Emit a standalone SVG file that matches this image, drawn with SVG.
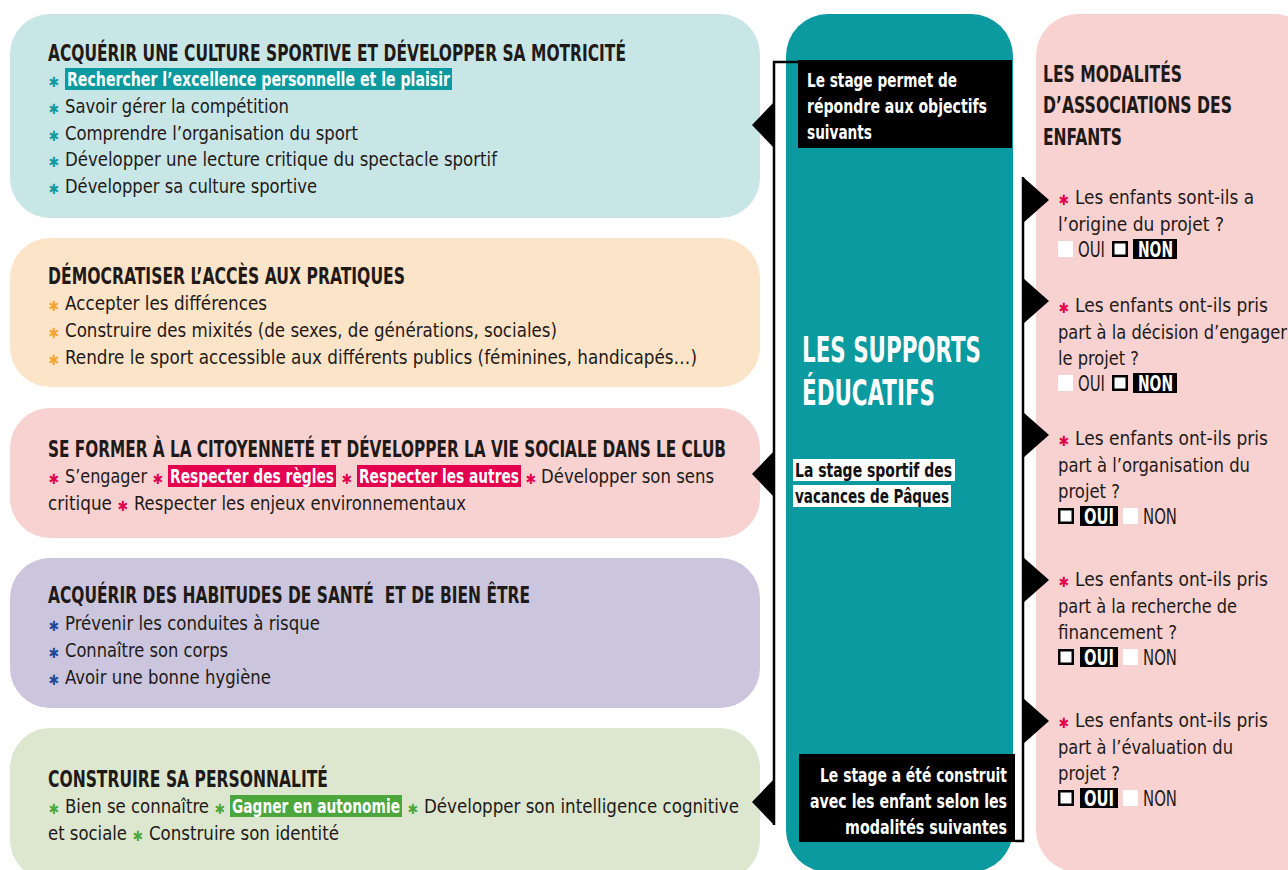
<svg xmlns="http://www.w3.org/2000/svg" width="1288" height="870" viewBox="0 0 1288 870">
<defs>
<style>
text{font-family:'Liberation Sans Narrow','DejaVu Sans Condensed','Liberation Sans',sans-serif;font-stretch:condensed;fill:#1f1a17;}
.t{font-size:23px;font-weight:bold;}
.b{font-size:20px;}
.hb{font-size:20px;font-weight:bold;fill:#fff;}
.ast{font-family:'DejaVu Sans',sans-serif;font-size:14px;font-weight:bold;text-anchor:middle;}
.a1{fill:#139aa0;}.a2{fill:#f2a534;}.a3{fill:#e2004f;}.a4{fill:#1e4a97;}.a5{fill:#4ca83c;}
.lw{font-size:19px;font-weight:bold;fill:#fff;}
.lb{font-size:19px;font-weight:bold;fill:#111;}
.q{font-size:20px;}
.chk{font-size:21px;}
.chkw{font-size:21px;font-weight:bold;fill:#fff;}
.wsq{fill:#fff;}
.bsq{fill:#fff;stroke:#000;stroke-width:2.5;}
.conn{fill:none;stroke:#000;stroke-width:2.5;}
.tri{fill:#000;}
</style>
</defs>
<rect width="1288" height="870" fill="#fff"/>

<g id="box-culture">
<rect x="10" y="14" width="750" height="204" rx="40" fill="#c9e6e7"/>
<text class="t" x="48" y="61" textLength="578" lengthAdjust="spacingAndGlyphs">ACQUÉRIR UNE CULTURE SPORTIVE ET DÉVELOPPER SA MOTRICITÉ</text>
<rect x="65" y="68" width="387" height="22" fill="#0b9aa0"/>
<text class="ast a1" x="54" y="87">✱</text>
<text class="hb" x="67" y="86" textLength="383" lengthAdjust="spacingAndGlyphs">Rechercher l’excellence personnelle et le plaisir</text>
<text class="ast a1" x="54" y="114">✱</text>
<text class="b" x="65" y="113" textLength="224" lengthAdjust="spacingAndGlyphs">Savoir gérer la compétition</text>
<text class="ast a1" x="54" y="141">✱</text>
<text class="b" x="65" y="140" textLength="293" lengthAdjust="spacingAndGlyphs">Comprendre l’organisation du sport</text>
<text class="ast a1" x="54" y="167">✱</text>
<text class="b" x="65" y="166" textLength="432" lengthAdjust="spacingAndGlyphs">Développer une lecture critique du spectacle sportif</text>
<text class="ast a1" x="54" y="194">✱</text>
<text class="b" x="65" y="193" textLength="252" lengthAdjust="spacingAndGlyphs">Développer sa culture sportive</text>
</g>

<g id="box-democratiser">
<rect x="10" y="238" width="750" height="149" rx="40" fill="#fce4c8"/>
<text class="t" x="48" y="284" textLength="357" lengthAdjust="spacingAndGlyphs">DÉMOCRATISER L’ACCÈS AUX PRATIQUES</text>
<text class="ast a2" x="54" y="311">✱</text>
<text class="b" x="65" y="310" textLength="202" lengthAdjust="spacingAndGlyphs">Accepter les différences</text>
<text class="ast a2" x="54" y="338">✱</text>
<text class="b" x="65" y="337" textLength="492" lengthAdjust="spacingAndGlyphs">Construire des mixités (de sexes, de générations, sociales)</text>
<text class="ast a2" x="54" y="365">✱</text>
<text class="b" x="65" y="364" textLength="632" lengthAdjust="spacingAndGlyphs">Rendre le sport accessible aux différents publics (féminines, handicapés…)</text>
</g>

<g id="box-citoyennete">
<rect x="10" y="408" width="750" height="130" rx="40" fill="#f7d2d1"/>
<text class="t" x="48" y="457" textLength="678" lengthAdjust="spacingAndGlyphs">SE FORMER À LA CITOYENNETÉ ET DÉVELOPPER LA VIE SOCIALE DANS LE CLUB</text>
<text class="ast a3" x="54" y="484">✱</text>
<text class="b" x="65" y="483" textLength="82" lengthAdjust="spacingAndGlyphs">S’engager</text>
<text class="ast a3" x="158" y="484">✱</text>
<rect x="168" y="465" width="168" height="22" fill="#e2004f"/>
<text class="hb" x="170" y="483" textLength="164" lengthAdjust="spacingAndGlyphs">Respecter des règles</text>
<text class="ast a3" x="347" y="484">✱</text>
<rect x="357" y="465" width="164" height="22" fill="#e2004f"/>
<text class="hb" x="359" y="483" textLength="160" lengthAdjust="spacingAndGlyphs">Respecter les autres</text>
<text class="ast a3" x="531" y="484">✱</text>
<text class="b" x="541" y="483" textLength="173" lengthAdjust="spacingAndGlyphs">Développer son sens</text>
<text class="b" x="48" y="510" textLength="64" lengthAdjust="spacingAndGlyphs">critique</text>
<text class="ast a3" x="123" y="511">✱</text>
<text class="b" x="134" y="510" textLength="332" lengthAdjust="spacingAndGlyphs">Respecter les enjeux environnementaux</text>
</g>

<g id="box-sante">
<rect x="10" y="558" width="750" height="150" rx="40" fill="#cbc6de"/>
<text class="t" x="48" y="603" textLength="482" lengthAdjust="spacingAndGlyphs" xml:space="preserve">ACQUÉRIR DES HABITUDES DE SANTÉ  ET DE BIEN ÊTRE</text>
<text class="ast a4" x="54" y="631">✱</text>
<text class="b" x="65" y="630" textLength="255" lengthAdjust="spacingAndGlyphs">Prévenir les conduites à risque</text>
<text class="ast a4" x="54" y="658">✱</text>
<text class="b" x="65" y="657" textLength="163" lengthAdjust="spacingAndGlyphs">Connaître son corps</text>
<text class="ast a4" x="54" y="685">✱</text>
<text class="b" x="65" y="684" textLength="206" lengthAdjust="spacingAndGlyphs">Avoir une bonne hygiène</text>
</g>

<g id="box-personnalite">
<rect x="10" y="728" width="750" height="152" rx="40" fill="#dde7d0"/>
<text class="t" x="48" y="787" textLength="280" lengthAdjust="spacingAndGlyphs">CONSTRUIRE SA PERSONNALITÉ</text>
<text class="ast a5" x="54" y="814">✱</text>
<text class="b" x="65" y="813" textLength="144" lengthAdjust="spacingAndGlyphs">Bien se connaître</text>
<text class="ast a5" x="220" y="814">✱</text>
<rect x="230" y="795" width="172" height="22" fill="#4ca63b"/>
<text class="hb" x="232" y="813" textLength="168" lengthAdjust="spacingAndGlyphs">Gagner en autonomie</text>
<text class="ast a5" x="413" y="814">✱</text>
<text class="b" x="424" y="813" textLength="315" lengthAdjust="spacingAndGlyphs">Développer son intelligence cognitive</text>
<text class="b" x="48" y="840" textLength="79" lengthAdjust="spacingAndGlyphs">et sociale</text>
<text class="ast a5" x="138" y="841">✱</text>
<text class="b" x="149" y="840" textLength="190" lengthAdjust="spacingAndGlyphs">Construire son identité</text>
</g>

<g id="supports">
<rect x="786" y="14" width="227" height="858" rx="42" fill="#0b9aa0"/>
<text x="802" y="362" style="font-size:35px;font-weight:bold;fill:#fff" textLength="179" lengthAdjust="spacingAndGlyphs">LES SUPPORTS</text>
<text x="802" y="405" style="font-size:35px;font-weight:bold;fill:#fff" textLength="133" lengthAdjust="spacingAndGlyphs">ÉDUCATIFS</text>
</g>

<g id="label-objectifs">
<rect x="798" y="60" width="214" height="88" fill="#000"/>
<text class="lw" x="807" y="87" textLength="150" lengthAdjust="spacingAndGlyphs">Le stage permet de</text>
<text class="lw" x="807" y="113" textLength="180" lengthAdjust="spacingAndGlyphs">répondre aux objectifs</text>
<text class="lw" x="807" y="139" textLength="65" lengthAdjust="spacingAndGlyphs">suivants</text>
</g>

<g id="label-stage">
<rect x="793" y="459" width="162" height="22" fill="#fff"/>
<rect x="793" y="485" width="158" height="22" fill="#fff"/>
<text class="lb" x="795" y="477" textLength="157" lengthAdjust="spacingAndGlyphs">La stage sportif des</text>
<text class="lb" x="795" y="503" textLength="154" lengthAdjust="spacingAndGlyphs">vacances de Pâques</text>
</g>

<g id="label-construit">
<rect x="799" y="754" width="216" height="88" fill="#000"/>
<text class="lw" x="1007" y="782" text-anchor="end" textLength="187" lengthAdjust="spacingAndGlyphs">Le stage a été construit</text>
<text class="lw" x="1007" y="808" text-anchor="end" textLength="197" lengthAdjust="spacingAndGlyphs">avec les enfant selon les</text>
<text class="lw" x="1007" y="834" text-anchor="end" textLength="162" lengthAdjust="spacingAndGlyphs">modalités suivantes</text>
</g>

<g id="modalites">
<rect x="1036" y="14" width="280" height="858" rx="42" fill="#f7d2d1"/>
<text class="t" x="1043" y="82" textLength="139" lengthAdjust="spacingAndGlyphs">LES MODALITÉS</text>
<text class="t" x="1043" y="113" textLength="189" lengthAdjust="spacingAndGlyphs">D’ASSOCIATIONS DES</text>
<text class="t" x="1043" y="145" textLength="79" lengthAdjust="spacingAndGlyphs">ENFANTS</text>
</g>

<g id="q-origine">
<text class="ast a3" x="1064" y="205">✱</text>
<text class="q" x="1075" y="204" textLength="179" lengthAdjust="spacingAndGlyphs">Les enfants sont-ils a</text>
<text class="q" x="1058" y="231" textLength="166" lengthAdjust="spacingAndGlyphs">l’origine du projet ?</text>
<rect class="wsq" x="1058" y="241" width="15" height="16"/>
<text class="chk" x="1078" y="257" textLength="27" lengthAdjust="spacingAndGlyphs">OUI</text>
<rect class="bsq" x="1113.25" y="242.25" width="13.5" height="13.5"/>
<rect x="1133" y="239" width="44" height="20" fill="#000"/>
<text class="chkw" x="1138" y="257" textLength="35" lengthAdjust="spacingAndGlyphs">NON</text>
</g>

<g id="q-decision">
<text class="ast a3" x="1064" y="313">✱</text>
<text class="q" x="1075" y="312" textLength="193" lengthAdjust="spacingAndGlyphs">Les enfants ont-ils pris</text>
<text class="q" x="1058" y="339" textLength="229" lengthAdjust="spacingAndGlyphs">part à la décision d’engager</text>
<text class="q" x="1058" y="365" textLength="81" lengthAdjust="spacingAndGlyphs">le projet ?</text>
<rect class="wsq" x="1058" y="375" width="15" height="16"/>
<text class="chk" x="1078" y="391" textLength="27" lengthAdjust="spacingAndGlyphs">OUI</text>
<rect class="bsq" x="1113.25" y="376.25" width="13.5" height="13.5"/>
<rect x="1133" y="373" width="44" height="20" fill="#000"/>
<text class="chkw" x="1138" y="391" textLength="35" lengthAdjust="spacingAndGlyphs">NON</text>
</g>

<g id="q-organisation">
<text class="ast a3" x="1064" y="446">✱</text>
<text class="q" x="1075" y="445" textLength="193" lengthAdjust="spacingAndGlyphs">Les enfants ont-ils pris</text>
<text class="q" x="1058" y="472" textLength="192" lengthAdjust="spacingAndGlyphs">part à l’organisation du</text>
<text class="q" x="1058" y="498" textLength="62" lengthAdjust="spacingAndGlyphs">projet ?</text>
<rect class="bsq" x="1059.25" y="509.25" width="13.5" height="13.5"/>
<rect x="1080" y="506" width="38" height="20" fill="#000"/>
<text class="chkw" x="1084" y="524" textLength="30" lengthAdjust="spacingAndGlyphs">OUI</text>
<rect class="wsq" x="1123" y="508" width="15" height="16"/>
<text class="chk" x="1143" y="524" textLength="34" lengthAdjust="spacingAndGlyphs">NON</text>
</g>

<g id="q-financement">
<text class="ast a3" x="1064" y="587">✱</text>
<text class="q" x="1075" y="586" textLength="193" lengthAdjust="spacingAndGlyphs">Les enfants ont-ils pris</text>
<text class="q" x="1058" y="613" textLength="179" lengthAdjust="spacingAndGlyphs">part à la recherche de</text>
<text class="q" x="1058" y="639" textLength="119" lengthAdjust="spacingAndGlyphs">financement ?</text>
<rect class="bsq" x="1059.25" y="650.25" width="13.5" height="13.5"/>
<rect x="1080" y="647" width="38" height="20" fill="#000"/>
<text class="chkw" x="1084" y="665" textLength="30" lengthAdjust="spacingAndGlyphs">OUI</text>
<rect class="wsq" x="1123" y="649" width="15" height="16"/>
<text class="chk" x="1143" y="665" textLength="34" lengthAdjust="spacingAndGlyphs">NON</text>
</g>

<g id="q-evaluation">
<text class="ast a3" x="1064" y="728">✱</text>
<text class="q" x="1075" y="727" textLength="193" lengthAdjust="spacingAndGlyphs">Les enfants ont-ils pris</text>
<text class="q" x="1058" y="754" textLength="175" lengthAdjust="spacingAndGlyphs">part à l’évaluation du</text>
<text class="q" x="1058" y="780" textLength="62" lengthAdjust="spacingAndGlyphs">projet ?</text>
<rect class="bsq" x="1059.25" y="791.25" width="13.5" height="13.5"/>
<rect x="1080" y="788" width="38" height="20" fill="#000"/>
<text class="chkw" x="1084" y="806" textLength="30" lengthAdjust="spacingAndGlyphs">OUI</text>
<rect class="wsq" x="1123" y="790" width="15" height="16"/>
<text class="chk" x="1143" y="806" textLength="34" lengthAdjust="spacingAndGlyphs">NON</text>
</g>

<g id="connectors">
<path class="conn" d="M798,62 H774 V825"/>
<polygon class="tri" points="774,102 752,125 774,148"/>
<polygon class="tri" points="774,451 752,474 774,497"/>
<polygon class="tri" points="774,779 752,802 774,825"/>
<path class="conn" d="M1023,177 V841 H1015"/>
<polygon class="tri" points="1023,177 1049,200 1023,223"/>
<polygon class="tri" points="1023,278 1049,301 1023,324"/>
<polygon class="tri" points="1023,412 1049,435 1023,458"/>
<polygon class="tri" points="1023,557 1049,580 1023,603"/>
<polygon class="tri" points="1023,698 1049,721 1023,744"/>
</g>
</svg>
